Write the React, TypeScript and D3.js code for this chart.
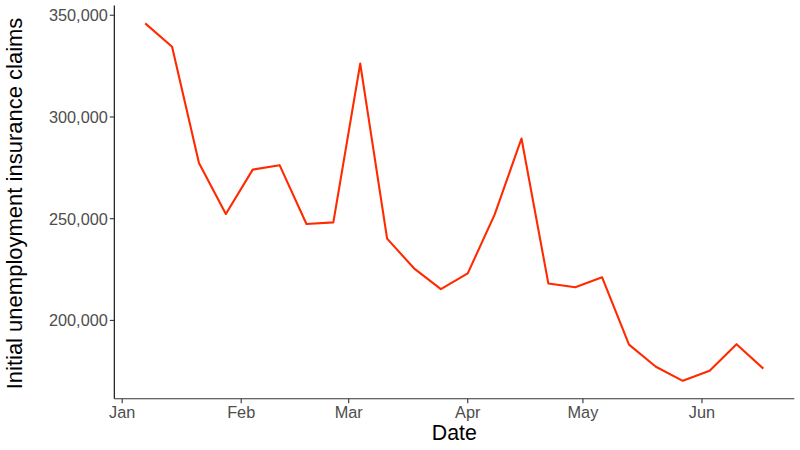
import React from "react";
import * as d3 from "d3";

const dates = [
  "2017-01-07", "2017-01-14", "2017-01-21", "2017-01-28", "2017-02-04", "2017-02-11",
  "2017-02-18", "2017-02-25", "2017-03-04", "2017-03-11", "2017-03-18", "2017-03-25",
  "2017-04-01", "2017-04-08", "2017-04-15", "2017-04-22", "2017-04-29", "2017-05-06",
  "2017-05-13", "2017-05-20", "2017-05-27", "2017-06-03", "2017-06-10", "2017-06-17",
];
const claims = [
  346000, 334500, 277400, 252300, 274100, 276300,
  247400, 248200, 326200, 240200, 225600, 215400,
  223100, 252000, 289400, 218100, 216300, 221200,
  188100, 177200, 170300, 175300, 188300, 176300,
];
const yTicks = [200000, 250000, 300000, 350000];
const xTickMonths = ["2017-01-01", "2017-02-01", "2017-03-01", "2017-04-01", "2017-05-01", "2017-06-01"];

const W = 800, H = 450;
const left = 114.3, right = 794.3, top = 5.5, bottom = 398.7;

export default function App() {
  const parse = d3.utcParse("%Y-%m-%d");
  const data = dates.map((d, i) => ({ date: parse(d)!, value: claims[i] }));
  const xExt = d3.extent(data, d => d.date.getTime()) as [number, number];
  const xPad = (xExt[1] - xExt[0]) * 0.05;
  const x = d3.scaleUtc().domain([new Date(xExt[0] - xPad), new Date(xExt[1] + xPad)]).range([left, right]);
  const yExt = d3.extent(claims) as [number, number];
  const yPad = (yExt[1] - yExt[0]) * 0.05;
  const y = d3.scaleLinear().domain([yExt[0] - yPad, yExt[1] + yPad]).range([bottom, top]);
  const line = d3.line<{ date: Date; value: number }>().x(d => x(d.date)).y(d => y(d.value));
  const fmt = d3.format(",");
  const mfmt = d3.utcFormat("%b");
  const font = "'Liberation Sans', Arial, Helvetica, sans-serif";

  return (
    <svg width={W} height={H} style={{ position: "absolute", left: 0, top: 0, background: "#fff" }} fontFamily={font}>
      <rect x={0} y={0} width={W} height={H} fill="#fff" />
      <path d={line(data) || ""} fill="none" stroke="#ff2a00" strokeWidth={2.1} strokeLinejoin="round" />
      <line x1={left} x2={left} y1={top} y2={bottom} stroke="#000" strokeWidth={1.1} />
      <line x1={left} x2={right} y1={bottom} y2={bottom} stroke="#333" strokeWidth={1.1} />
      {yTicks.map(t => (
        <g key={t}>
          <line x1={left - 4.5} x2={left} y1={y(t)} y2={y(t)} stroke="#333" strokeWidth={1.1} />
          <text x={left - 6.5} y={y(t)} dy="0.36em" textAnchor="end" fontSize={16.3} fill="#4d4d4d">{fmt(t)}</text>
        </g>
      ))}
      {xTickMonths.map(m => {
        const d = parse(m)!;
        return (
          <g key={m}>
            <line x1={x(d)} x2={x(d)} y1={bottom} y2={bottom + 4.5} stroke="#333" strokeWidth={1.1} />
            <text x={x(d)} y={418} textAnchor="middle" fontSize={16.3} fill="#4d4d4d">{mfmt(d)}</text>
          </g>
        );
      })}
      <text x={(left + right) / 2} y={439.5} textAnchor="middle" fontSize={21.3} fill="#000">Date</text>
      <text transform={`translate(22, 203.5) rotate(-90)`} textAnchor="middle" fontSize={22} fill="#000">
        Initial unemployment insurance claims
      </text>
    </svg>
  );
}
